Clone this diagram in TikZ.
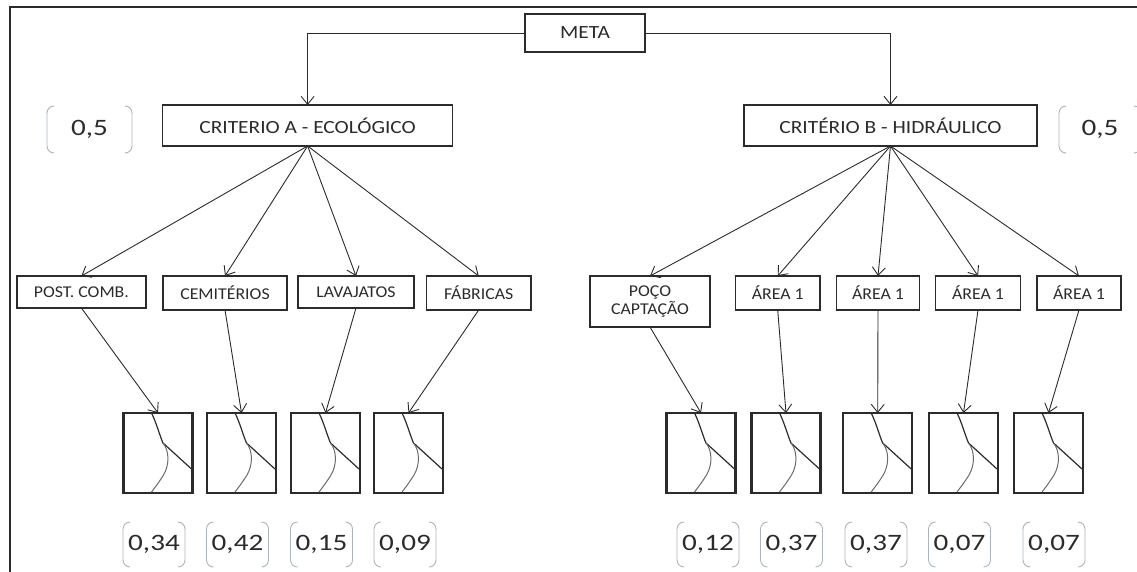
\documentclass[tikz,border=0pt]{standalone}
\usepackage{fontspec}
\setmainfont{Carlito}
\newfontfamily\boxfont[FakeStretch=1.15]{Carlito}
\newfontfamily\subfont[FakeStretch=1.08]{Carlito}
\newfontfamily\valfont[FakeStretch=1.24]{Carlito}
\usetikzlibrary{arrows.meta}
\definecolor{ink}{HTML}{2B2B2B}
\definecolor{brk}{HTML}{A7B6C2}

\tikzset{
  every node/.style={inner sep=0pt, outer sep=0pt, text=ink},
  topbox/.style={draw=ink, line width=1.2pt, font=\boxfont\fontsize{18.6}{20}\selectfont},
  subbox/.style={draw=ink, line width=1.2pt, align=center,
                 font=\subfont\fontsize{16.5}{18.5}\selectfont},
  link/.style={draw=ink, line width=0.9pt,
               -{Straight Barb[length=8pt,width=13pt,line width=0.9pt]}},
  chart/.style={draw=ink, line width=2.2pt, minimum width=69pt, minimum height=80pt},
  curveline/.style={draw=ink, line width=1.2pt},
  curvesoft/.style={draw=ink!70, line width=1pt},
  weight/.style={minimum width=62pt, minimum height=45pt,
                 font=\valfont\fontsize{23.5}{25}\selectfont},
  bracket/.style={draw=brk, line width=0.9pt, rounded corners=7pt},
  frameline/.style={draw=ink, line width=2.6pt}
}

% round brackets around a weight node
\newcommand\wbrackets[1]{%
  \draw[bracket] ([xshift=7pt]#1.north west) -- (#1.north west) -- (#1.south west) -- ([xshift=7pt]#1.south west);
  \draw[bracket] ([xshift=-7pt]#1.north east) -- (#1.north east) -- (#1.south east) -- ([xshift=-7pt]#1.south east);}

% value curve inside a chart node (69 x 80)
\newcommand\chartlines[1]{%
  \begin{scope}[shift={(#1.north west)}]
    \draw[curveline] (28,0) .. controls (33,10) and (36,22) .. (39.5,30) -- (68,56);
    \draw[curvesoft] (39.5,30) .. controls (46,38) and (46,52) .. (40,62)
          .. controls (35,70) and (31,75) .. (28,79);
  \end{scope}}

\begin{document}
\begin{tikzpicture}[x=1pt,y=-1pt]
\useasboundingbox (0,0) rectangle (1137,571);

% outer frame
\draw[frameline] (10,580) -- (10,7) -- (1150,7);

% goal and criteria
\node[topbox, minimum width=120pt, minimum height=38pt] (meta) at (585,33) {META};
\node[topbox, minimum width=290pt, minimum height=41pt] (ca) at (307.6,125.5) {CRITERIO A - ECOLÓGICO};
\node[topbox, minimum width=293pt, minimum height=41pt] (cb) at (890.5,125.5) {CRITÉRIO B - HIDRÁULICO};

\node[weight, minimum width=85pt, minimum height=47pt] (wa) at (89.5,129.5) {0,5};
\node[weight, minimum width=82pt, minimum height=47pt] (wb) at (1100,129.5) {0,5};
\wbrackets{wa}
\wbrackets{wb}

\draw[link] (meta.west) -| (ca.north);
\draw[link] (meta.east) -| (cb.north);

% sub-criteria, ecological branch
\node[subbox, minimum width=129pt, minimum height=32pt] (s1) at (81.4,292) {POST. COMB.};
\node[subbox, minimum width=124pt, minimum height=34pt] (s2) at (225,293) {CEMITÉRIOS};
\node[subbox, minimum width=116pt, minimum height=32pt] (s3) at (356,292) {LAVAJATOS};
\node[subbox, minimum width=104.5pt, minimum height=34pt] (s4) at (478.7,293) {FÁBRICAS};

% sub-criteria, hydraulic branch
\node[subbox, minimum width=120pt, minimum height=51pt] (t1) at (650,301.5) {POÇO\\CAPTAÇÃO};
\node[subbox, minimum width=84.5pt, minimum height=34pt] (t2) at (777.7,293) {ÁREA 1};
\node[subbox, minimum width=83.5pt, minimum height=34pt] (t3) at (878,293) {ÁREA 1};
\node[subbox, minimum width=85.5pt, minimum height=34pt] (t4) at (978,293) {ÁREA 1};
\node[subbox, minimum width=84pt, minimum height=34pt] (t5) at (1079,293) {ÁREA 1};

\foreach \n in {s1,s2,s3,s4} \draw[link] (ca.south) -- (\n.north);
\foreach \n in {t1,t2,t3,t4,t5} \draw[link] (cb.south) -- (\n.north);

% value function charts
\node[chart] (g1) at (158,453) {};
\node[chart] (g2) at (241.5,453) {};
\node[chart] (g3) at (325.5,453) {};
\node[chart] (g4) at (408.5,453) {};
\node[chart] (h1) at (701,453) {};
\node[chart] (h2) at (786,453) {};
\node[chart] (h3) at (877.7,453) {};
\node[chart] (h4) at (963.5,453) {};
\node[chart] (h5) at (1048.5,453) {};
\foreach \n in {g1,g2,g3,g4,h1,h2,h3,h4,h5} {\chartlines{\n}}

\draw[link] (s1.south) -- (g1.north);
\draw[link] (s2.south) -- (g2.north);
\draw[link] (s3.south) -- (g3.north);
\draw[link] (s4.south) -- (g4.north);
\draw[link] (t1.south) -- (h1.north);
\draw[link] (t2.south) -- (h2.north);
\draw[link] (t3.south) -- (h3.north);
\draw[link] (t4.south) -- (h4.north);
\draw[link] (t5.south) -- (h5.north);

% weights
\node[weight] (v1) at (154,544.5) {0,34};
\node[weight] (v2) at (237.5,544.5) {0,42};
\node[weight] (v3) at (321.5,544.5) {0,15};
\node[weight] (v4) at (405,544.5) {0,09};
\node[weight] (u1) at (708,544.5) {0,12};
\node[weight] (u2) at (791.5,544.5) {0,37};
\node[weight] (u3) at (876,544.5) {0,37};
\node[weight] (u4) at (959.5,544.5) {0,07};
\node[weight] (u5) at (1054,544.5) {0,07};
\foreach \n in {v1,v2,v3,v4,u1,u2,u3,u4,u5} {\wbrackets{\n}}
\end{tikzpicture}
\end{document}
